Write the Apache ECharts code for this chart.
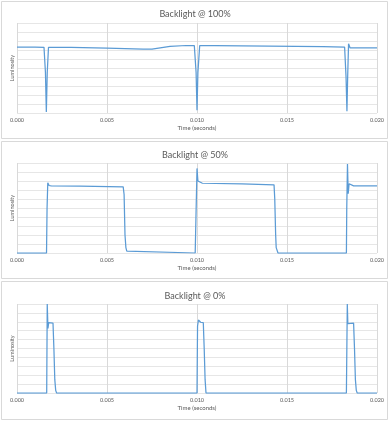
<!DOCTYPE html>
<html>
<head>
<meta charset="utf-8">
<script src="https://cdn.jsdelivr.net/npm/echarts@6/dist/echarts.min.js"></script>
<style>
html,body{margin:0;padding:0;background:#fff;}
#c{width:390px;height:421px;}
</style>
</head>
<body>
<div id="c"></div>
<script>
// Panel titles
const titles = ["Backlight @ 100%", "Backlight @ 50%", "Backlight @ 0%"];
const xTickValues = [0, 0.005, 0.010, 0.015, 0.020];
const xAxisTitle = "Time (seconds)";
const yAxisTitle = "Luminosity";

// Backlight @ 100%
const t100 = [0, 0.0010, 0.0015, 0.00158, 0.00163, 0.00168, 0.00175, 0.0030, 0.0050, 0.0070, 0.0075, 0.0085, 0.0094, 0.00985, 0.00995, 0.0100, 0.01005, 0.01015, 0.0110, 0.0140, 0.0170, 0.0182, 0.01828, 0.01833, 0.01837, 0.01842, 0.0185, 0.0190, 0.0200];
const v100 = [7.33, 7.33, 7.3, 4.5, 0.1, 4.5, 7.3, 7.28, 7.2, 7.1, 7.1, 7.4, 7.5, 7.5, 4.5, 0.3, 4.5, 7.5, 7.48, 7.43, 7.38, 7.33, 4.0, 0.2, 4.0, 7.7, 7.25, 7.25, 7.25];

// Backlight @ 50%
const t50 = [0, 0.00164, 0.00167, 0.00171, 0.00178, 0.0019, 0.0035, 0.0059, 0.00595, 0.0060, 0.00605, 0.0061, 0.0062, 0.0099, 0.00995, 0.0100, 0.01005, 0.0101, 0.0103, 0.0125, 0.01428, 0.01432, 0.01437, 0.0144, 0.0145, 0.0183, 0.01832, 0.01836, 0.0184, 0.01845, 0.0185, 0.0187, 0.0200];
const v50 = [0, 0, 5, 7.8, 7.5, 7.45, 7.42, 7.35, 6.5, 2, 0.6, 0.2, 0, 0, 0, 9.4, 8, 7.8, 7.75, 7.67, 7.57, 6, 2, 0.6, 0, 0, 5, 9.9, 6.6, 7.7, 7.5, 7.46, 7.46];

// Backlight @ 0%
const t0 = [0, 0.00165, 0.00168, 0.00172, 0.00176, 0.0018, 0.0020, 0.00205, 0.0021, 0.00215, 0.0022, 0.0100, 0.01003, 0.01008, 0.0102, 0.01035, 0.0104, 0.01045, 0.0105, 0.0183, 0.01835, 0.01838, 0.01842, 0.01845, 0.0187, 0.01875, 0.0188, 0.01885, 0.0189, 0.0200];
const v0 = [0, 0, 10, 7.25, 7.9, 7.9, 7.85, 5, 1.5, 0.3, 0, 0, 7.5, 8.2, 7.95, 7.9, 5, 1.5, 0, 0, 10, 7.8, 7.9, 7.9, 7.85, 5, 1.5, 0.3, 0, 0];

const panels = [
  {t: t100, v: v100, top: 23, height: 90, titleY: 5, boxY: 1, boxH: 137},
  {t: t50, v: v50, top: 163, height: 90, titleY: 146, boxY: 141, boxH: 137},
  {t: t0, v: v0, top: 304, height: 89, titleY: 287, boxY: 281, boxH: 138}
];

const font = "Lato, 'Open Sans', sans-serif";
const option = {
  animation: false,
  backgroundColor: '#fff',
  title: panels.map((p, i) => ({
    text: titles[i], left: 'center', top: p.titleY,
    textStyle: {fontFamily: font, fontSize: 9, fontWeight: 'normal', color: '#595959'}
  })),
  graphic: panels.map(p => ({
    type: 'rect', shape: {x: 1.5, y: p.boxY + 0.5, width: 386, height: p.boxH},
    style: {fill: 'none', stroke: '#d9d9d9', lineWidth: 1}, z: -1
  })),
  grid: panels.map(p => ({left: 17, right: 13, top: p.top, height: p.height})),
  xAxis: panels.map((p, i) => ({
    type: 'value', gridIndex: i, min: 0, max: 0.02, interval: 0.005,
    name: xAxisTitle, nameLocation: 'middle', nameGap: 12,
    nameTextStyle: {fontFamily: font, fontSize: 6, color: '#595959'},
    axisLine: {show: false}, axisTick: {show: false},
    axisLabel: {fontFamily: font, fontSize: 5.5, color: '#595959', margin: 4,
      formatter: v => v.toFixed(3)},
    splitLine: {show: true, lineStyle: {color: '#d9d9d9', width: 1}}
  })),
  yAxis: panels.map((p, i) => ({
    type: 'value', gridIndex: i, min: 0, max: 10, interval: 1,
    name: yAxisTitle, nameLocation: 'middle', nameGap: 2, nameRotate: 90,
    nameTextStyle: {fontFamily: font, fontSize: 5.5, color: '#595959'},
    axisLine: {show: false}, axisTick: {show: false}, axisLabel: {show: false},
    splitLine: {show: true, lineStyle: {color: '#e6e6e6', width: 1}}
  })),
  series: panels.map((p, i) => ({
    type: 'line', xAxisIndex: i, yAxisIndex: i, showSymbol: false, symbol: 'none',
    data: p.t.map((t, k) => [t, p.v[k]]),
    lineStyle: {color: '#5b9bd5', width: 1.25},
    itemStyle: {color: '#5b9bd5'}
  }))
};
const chart = echarts.init(document.getElementById('c'), null, {renderer: 'canvas'});
chart.setOption(option);
</script>
</body>
</html>
